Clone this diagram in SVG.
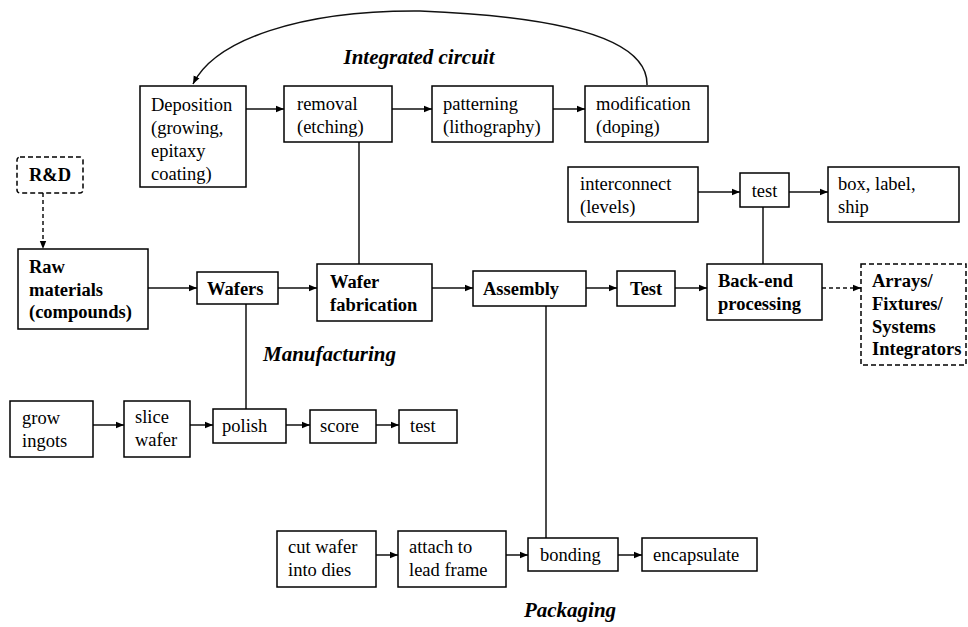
<svg xmlns="http://www.w3.org/2000/svg" width="968" height="627" viewBox="0 0 968 627">
<style>
  .box { fill: #fff; stroke: #000; stroke-width: 1.5; }
  .dbox { fill: #fff; stroke: #000; stroke-width: 1.5; stroke-dasharray: 5 3; }
  .t { font-family: "Liberation Serif", "Times New Roman", serif; font-size: 18.5px; fill: #000; }
  .b { font-family: "Liberation Serif", "Times New Roman", serif; font-size: 18.5px; font-weight: bold; fill: #000; }
  .h { font-family: "Liberation Serif", "Times New Roman", serif; font-size: 21px; font-weight: bold; font-style: italic; fill: #000; }
  .c { fill: none; stroke: #111; stroke-width: 1.5; }
  .a { marker-end: url(#arr); }
  .d { stroke-dasharray: 4 3; }
</style>
<defs>
  <marker id="arr" markerUnits="userSpaceOnUse" markerWidth="9" markerHeight="8" refX="8" refY="4" orient="auto">
    <path d="M0,0.8 L8,4 L0,7.2 Z" fill="#000"/>
  </marker>
</defs>
<rect width="968" height="627" fill="#fff"/>

<g id="connectors">
  <path class="c a" d="M647,85 C648,50 600,18 420,11 C300,10 215,40 193,84"/>
  <line class="c a" x1="246" y1="109" x2="284" y2="109"/>
  <line class="c a" x1="392" y1="109" x2="432" y2="109"/>
  <line class="c a" x1="553" y1="109" x2="585" y2="109"/>
  <line class="c" x1="359" y1="142" x2="359" y2="264"/>
  <line class="c a" x1="698" y1="192" x2="740" y2="192"/>
  <line class="c a" x1="789" y1="192" x2="828" y2="192"/>
  <line class="c" x1="763" y1="207" x2="763" y2="264"/>
  <line class="c a d" x1="43" y1="193" x2="43" y2="249"/>
  <line class="c a" x1="148" y1="288" x2="197" y2="288"/>
  <line class="c a" x1="278" y1="288" x2="317" y2="288"/>
  <line class="c a" x1="432" y1="288" x2="473" y2="288"/>
  <line class="c a" x1="586" y1="288" x2="617" y2="288"/>
  <line class="c a" x1="675" y1="288" x2="707" y2="288"/>
  <line class="c a d" x1="822" y1="288" x2="861" y2="288"/>
  <line class="c" x1="246" y1="304" x2="246" y2="409"/>
  <line class="c" x1="546" y1="306" x2="546" y2="538"/>
  <line class="c a" x1="93" y1="425" x2="124" y2="425"/>
  <line class="c a" x1="190" y1="425" x2="213" y2="425"/>
  <line class="c a" x1="286" y1="425" x2="310" y2="425"/>
  <line class="c a" x1="376" y1="425" x2="399" y2="425"/>
  <line class="c a" x1="376" y1="555" x2="398" y2="555"/>
  <line class="c a" x1="506" y1="555" x2="528" y2="555"/>
  <line class="c a" x1="618" y1="555" x2="642" y2="555"/>
</g>

<g id="labels">
  <text class="h" x="419" y="64" text-anchor="middle">Integrated circuit</text>
  <text class="h" x="263" y="361">Manufacturing</text>
  <text class="h" x="570" y="617" text-anchor="middle">Packaging</text>
</g>

<g id="deposition">
  <rect class="box" x="140" y="86" width="106" height="101"/>
  <text class="t" x="151" y="111">Deposition</text>
  <text class="t" x="151" y="134">(growing,</text>
  <text class="t" x="151" y="157">epitaxy</text>
  <text class="t" x="151" y="180">coating)</text>
</g>
<g id="removal">
  <rect class="box" x="284" y="86" width="108" height="56"/>
  <text class="t" x="297" y="110">removal</text>
  <text class="t" x="297" y="133">(etching)</text>
</g>
<g id="patterning">
  <rect class="box" x="432" y="86" width="121" height="56"/>
  <text class="t" x="443" y="110">patterning</text>
  <text class="t" x="443" y="133">(lithography)</text>
</g>
<g id="modification">
  <rect class="box" x="585" y="86" width="123" height="56"/>
  <text class="t" x="596" y="110">modification</text>
  <text class="t" x="596" y="133">(doping)</text>
</g>
<g id="interconnect">
  <rect class="box" x="568" y="167" width="130" height="55"/>
  <text class="t" x="580" y="190">interconnect</text>
  <text class="t" x="580" y="213">(levels)</text>
</g>
<g id="test-top">
  <rect class="box" x="740" y="173" width="49" height="34"/>
  <text class="t" x="764.5" y="197" text-anchor="middle">test</text>
</g>
<g id="box-label-ship">
  <rect class="box" x="828" y="167" width="131" height="55"/>
  <text class="t" x="838" y="190">box, label,</text>
  <text class="t" x="838" y="213">ship</text>
</g>
<g id="rnd">
  <rect class="dbox" x="17" y="157" width="66" height="36" rx="3"/>
  <text class="b" x="50" y="181" text-anchor="middle">R&amp;D</text>
</g>
<g id="raw-materials">
  <rect class="box" x="18" y="249" width="130" height="80"/>
  <text class="b" x="29" y="273">Raw</text>
  <text class="b" x="29" y="296">materials</text>
  <text class="b" x="29" y="318">(compounds)</text>
</g>
<g id="wafers">
  <rect class="box" x="197" y="272" width="81" height="32"/>
  <text class="b" x="207" y="295">Wafers</text>
</g>
<g id="wafer-fabrication">
  <rect class="box" x="317" y="264" width="115" height="57"/>
  <text class="b" x="330" y="288">Wafer</text>
  <text class="b" x="330" y="311">fabrication</text>
</g>
<g id="assembly">
  <rect class="box" x="473" y="271" width="113" height="35"/>
  <text class="b" x="483" y="295">Assembly</text>
</g>
<g id="test-main">
  <rect class="box" x="617" y="271" width="58" height="35"/>
  <text class="b" x="630" y="295">Test</text>
</g>
<g id="back-end">
  <rect class="box" x="707" y="264" width="115" height="56"/>
  <text class="b" x="718" y="287">Back-end</text>
  <text class="b" x="718" y="310">processing</text>
</g>
<g id="arrays">
  <rect class="dbox" x="861" y="264" width="105" height="101"/>
  <text class="b" x="872" y="287">Arrays/</text>
  <text class="b" x="872" y="310">Fixtures/</text>
  <text class="b" x="872" y="333">Systems</text>
  <text class="b" x="872" y="355">Integrators</text>
</g>
<g id="grow-ingots">
  <rect class="box" x="10" y="401" width="83" height="56"/>
  <text class="t" x="22" y="424">grow</text>
  <text class="t" x="22" y="447">ingots</text>
</g>
<g id="slice-wafer">
  <rect class="box" x="124" y="401" width="66" height="56"/>
  <text class="t" x="135" y="423">slice</text>
  <text class="t" x="135" y="446">wafer</text>
</g>
<g id="polish">
  <rect class="box" x="213" y="409" width="73" height="34"/>
  <text class="t" x="222" y="432">polish</text>
</g>
<g id="score">
  <rect class="box" x="310" y="410" width="66" height="33"/>
  <text class="t" x="320" y="432">score</text>
</g>
<g id="test-wafer">
  <rect class="box" x="399" y="410" width="58" height="33"/>
  <text class="t" x="410" y="432">test</text>
</g>
<g id="cut-wafer">
  <rect class="box" x="277" y="531" width="99" height="56"/>
  <text class="t" x="288" y="553">cut wafer</text>
  <text class="t" x="288" y="576">into dies</text>
</g>
<g id="attach">
  <rect class="box" x="398" y="531" width="108" height="56"/>
  <text class="t" x="409" y="553">attach to</text>
  <text class="t" x="409" y="576">lead frame</text>
</g>
<g id="bonding">
  <rect class="box" x="528" y="538" width="90" height="33"/>
  <text class="t" x="540" y="561">bonding</text>
</g>
<g id="encapsulate">
  <rect class="box" x="642" y="538" width="115" height="33"/>
  <text class="t" x="653" y="561">encapsulate</text>
</g>
</svg>
